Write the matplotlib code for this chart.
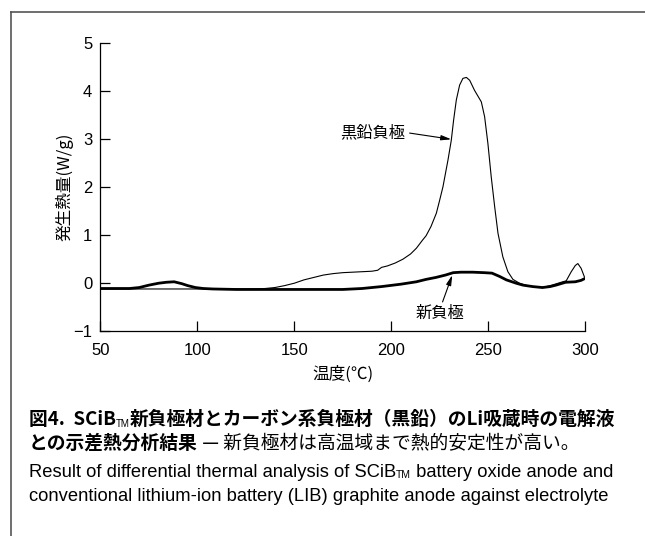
import numpy as np
import matplotlib
matplotlib.use("Agg")
import matplotlib.pyplot as plt
from matplotlib.lines import Line2D

plt.rcParams['font.family'] = ['Liberation Sans', 'Noto Sans CJK JP', 'DejaVu Sans']
JP = ['Noto Sans CJK JP', 'DejaVu Sans']
EN = ['Liberation Sans']

# graphite anode (thin line)
temp_graphite = [50, 60, 70, 80, 90, 100, 110, 120, 130, 135, 140, 145, 150, 155, 160, 165,
                 170, 175, 180, 185, 190, 193, 195, 198, 202, 206, 210, 213, 216, 218, 220.5,
                 223.3, 225, 226.7, 229.3, 231, 232.2, 233.6, 235.3, 237, 238.8, 240.5, 243,
                 246.5, 248.2, 249.9, 251.6, 253.4, 255.1, 257.6, 260.2, 262.8, 266.2, 270,
                 273, 278, 283, 288.5, 290.3, 292.9, 295, 296.3, 298, 299.7]
heat_graphite = [-0.13, -0.13, -0.13, -0.13, -0.13, -0.13, -0.13, -0.13, -0.13, -0.12, -0.10,
                 -0.06, -0.01, 0.06, 0.11, 0.16, 0.19, 0.21, 0.22, 0.23, 0.24, 0.26, 0.32,
                 0.35, 0.41, 0.49, 0.60, 0.72, 0.88, 0.98, 1.17, 1.45, 1.72, 2.0, 2.56, 2.97,
                 3.39, 3.81, 4.12, 4.26, 4.28, 4.22, 4.01, 3.77, 3.46, 2.90, 2.21, 1.58, 1.03,
                 0.54, 0.23, 0.07, -0.01, -0.06, -0.08, -0.10, -0.05, 0.02, 0.04, 0.23, 0.36,
                 0.40, 0.30, 0.12]

# new anode (thick line)
temp_new = [50, 65, 70, 75, 80, 84, 88, 92, 95, 99, 103, 108, 120, 140, 160, 175, 185, 195,
            205, 213, 218, 223, 228, 232, 236, 242, 248, 252, 256, 259.4, 264.5, 268, 273,
            278, 282, 285, 290, 295, 298, 300]
heat_new = [-0.12, -0.12, -0.10, -0.05, -0.01, 0.01, 0.02, -0.02, -0.06, -0.10, -0.12, -0.13,
            -0.14, -0.14, -0.14, -0.14, -0.12, -0.08, -0.03, 0.02, 0.07, 0.11, 0.16, 0.21,
            0.22, 0.22, 0.21, 0.20, 0.13, 0.06, -0.01, -0.05, -0.08, -0.10, -0.08, -0.05,
            0.01, 0.02, 0.05, 0.09]

x_ticks = [50, 100, 150, 200, 250, 300]
y_ticks = [-1, 0, 1, 2, 3, 4, 5]

fig = plt.figure(figsize=(6.45, 5.36), dpi=100)
ax = fig.add_axes([0.1558, 0.383, 0.7512, 0.537])

ax.plot(temp_graphite, heat_graphite, color='black', lw=0.8)
ax.plot(temp_new, heat_new, color='black', lw=2.0, solid_capstyle='round')

ax.set_xlim(50, 300)
ax.set_ylim(-1, 5)
ax.set_xticks(x_ticks)
ax.set_yticks(y_ticks)
ax.tick_params(direction='in', length=7, width=0.9, labelsize=12, pad=6)
ax.tick_params(axis='x', pad=9)
for s in ['top', 'right']:
    ax.spines[s].set_visible(False)
for s in ['left', 'bottom']:
    ax.spines[s].set_linewidth(0.9)

ax.set_ylabel('発生熱量(W/g)', family=JP, fontsize=12, labelpad=0)
ax.set_xlabel('温度(℃)', family=JP, fontsize=12, labelpad=5)

# annotations
ax.text(190.6, 3.12, '黒鉛負極', family=JP, fontsize=11.7, ha='center', va='center')
ax.annotate('', xy=(231, 2.99), xytext=(209.5, 3.12),
            arrowprops=dict(arrowstyle='-|>,head_length=0.6,head_width=0.15',
                            color='black', lw=0.8, shrinkA=0, shrinkB=0))
ax.text(225, -0.64, '新負極', family=JP, fontsize=11.7, ha='center', va='center')
ax.annotate('', xy=(231.5, 0.16), xytext=(226.5, -0.40),
            arrowprops=dict(arrowstyle='-|>,head_length=0.6,head_width=0.15',
                            color='black', lw=0.8, shrinkA=0, shrinkB=0))

# frame
fig.add_artist(Line2D([11 / 645, 1], [1 - 12 / 536, 1 - 12 / 536], color='#555555', lw=1.2,
                      transform=fig.transFigure))
fig.add_artist(Line2D([11 / 645, 11 / 645], [1 - 12 / 536, 0], color='#555555', lw=1.2,
                      transform=fig.transFigure))

renderer = fig.canvas.get_renderer()


def seq_text(x_px, y_px, parts):
    # place text pieces one after another, coordinates in pixels from top-left
    x = x_px
    for s, kw in parts:
        dy = kw.pop('dy', 0)
        t = fig.text(x / 645, 1 - (y_px + dy) / 536, s, va='baseline', ha='left', **kw)
        bb = t.get_window_extent(renderer)
        x += bb.width


cap1 = dict(family=JP, fontsize=13.5, weight='bold')
sub = dict(family=EN, fontsize=7, dy=2)
seq_text(29, 425, [('図4.  SCiB', dict(cap1)), ('TM', dict(sub)),
                   ('新負極材とカーボン系負極材（黒鉛）のLi吸蔵時の電解液', dict(cap1))])
seq_text(29, 449, [('との示差熱分析結果', dict(cap1)),
                   (' — 新負極材は高温域まで熱的安定性が高い。', dict(family=JP, fontsize=13.5))])
en = dict(family=EN, fontsize=13.2)
seq_text(29, 477, [('Result of differential thermal analysis of SCiB', dict(en)),
                   ('TM', dict(family=EN, fontsize=7.5, dy=1.5)),
                   (' battery oxide anode and', dict(en))])
seq_text(29, 501, [('conventional lithium-ion battery (LIB) graphite anode against electrolyte',
                    dict(en))])

fig.savefig('out.png', dpi=100)
